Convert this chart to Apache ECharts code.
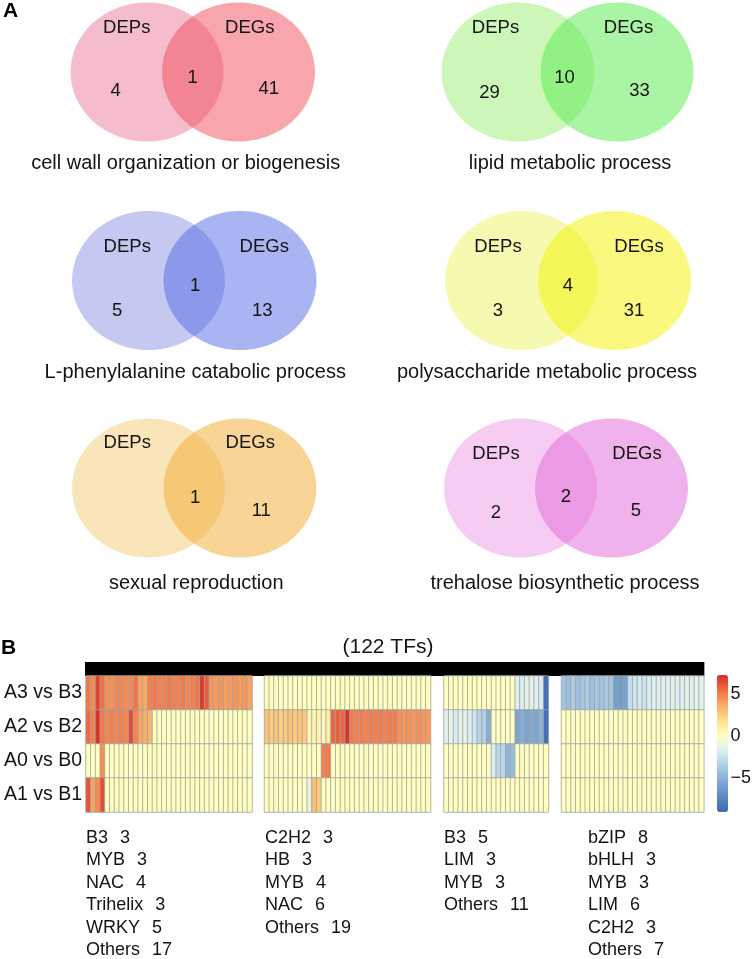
<!DOCTYPE html>
<html><head><meta charset="utf-8">
<script src="https://cdn.jsdelivr.net/npm/echarts@6/dist/echarts.min.js"></script>
<style>html,body{margin:0;padding:0;background:#fff}#c{width:754px;height:959px}</style>
</head><body><div id="c"></div>
<script>
// ================= DATA =================
// Panel A: Venn diagrams
const vennTitles = ['cell wall organization or biogenesis','lipid metabolic process','L-phenylalanine catabolic process','polysaccharide metabolic process','sexual reproduction','trehalose biosynthetic process'];
const vennSetNames = ['DEPs','DEGs'];
const vennOnlyDEPs = [4, 29, 5, 3, null, 2];
const vennBoth     = [1, 10, 1, 4, 1, 2];
const vennOnlyDEGs = [41, 33, 13, 31, 11, 5];

// Panel B: heatmap (log2 fold change), rows top->bottom
const rowLabels = ['A3 vs B3','A2 vs B2','A0 vs B0','A1 vs B1'];

const block1_A3 = [5.1,4.6,6.6,5.3,4.4,4.4,4.7,4.7,4.6,4.7,5.3,3.9,3.7,4.9,5.1,4.9,4.9,5.1,4.9,4.9,5.1,4.7,4.9,5.1,6.9,5.8,4.3,4.1,4.3,4.1,4.2,4.3,4.1,4.3,3.9];
const block1_A2 = [5.5,4.9,7.1,5.1,4.7,4.9,4.7,4.9,4.7,6.4,4.9,3.9,3.5,3.3,0,0,0,0,0,0,0,0,0,0,0,0,0,0,0,0,0,0,0,0,0];
const block1_A0 = [0,0,0,4.5,0,0,0,0,0,0,0,0,0,0,0,0,0,0,0,0,0,0,0,0,0,0,0,0,0,0,0,0,0,0,0];
const block1_A1 = [6.1,3.9,4.6,6.3,0,0,0,0,0,0,0,0,0,0,0,0,0,0,0,0,0,0,0,0,0,0,0,0,0,0,0,0,0,0,0];

const block2_A3 = [0,0,0,0,0,0,0,0,0,0,0,0,0,0,0,0,0,0,0,0,0,0,0,0,0,0,0,0,0,0,0,0,0,0,0];
const block2_A2 = [2.8,2.5,2.8,2.4,2.7,2.9,2.5,2.8,2.6,0.4,0.6,0.5,0.4,0.8,5.6,5.8,5.6,7.1,5.0,4.9,5.0,4.9,5.0,4.9,5.0,4.9,5.0,5.0,4.4,4.3,4.4,4.3,4.4,4.3,4.2];
const block2_A0 = [0,0,0,0,0,0,0,0,0,0,0,0,4.9,5.0,0,0,0,0,0,0,0,0,0,0,0,0,0,0,0,0,0,0,0,0,0];
const block2_A1 = [0,0,0,0,0,0,0,0,0,-1.2,3.0,2.6,0,0,0,0,0,0,0,0,0,0,0,0,0,0,0,0,0,0,0,0,0,0,0];

const block3_A3 = [0,0,0,0,0,0,0,0,0,0,0,0,0,0,0,-1.6,-1.8,-1.5,-1.4,-1.6,-1.9,-8.6];
const block3_A2 = [-1.6,-1.3,-1.9,-1.5,-1.4,-1.9,-2.2,-3.2,-3.4,-5.2,0,0,0,0,0,-5.6,-5.2,-5.8,-5.4,-5.6,-5.0,-8.6];
const block3_A0 = [0,0,0,0,0,0,0,0,0,0,-1.8,-3.0,-3.0,-4.8,-4.4,0,0,0,0,0,0,0];
const block3_A1 = [0,0,0,0,0,0,0,0,0,0,0,0,0,0,0,0,0,0,0,0,0,0];

const block4_A3 = [-4.0,-4.3,-3.6,-4.2,-3.9,-3.6,-4.2,-3.8,-4.1,-3.8,-4.0,-6.0,-6.2,-5.8,-2.6,-2.3,-2.1,-2.4,-1.8,-1.6,-1.8,-1.5,-1.7,-1.5,-1.6,-1.8,-1.5,-1.6,-1.4,-1.5];
const block4_A2 = [0,0,0,0,0,0,0,0,0,0,0,0,0,0,0,0,0,0,0,0,0,0,0,0,0,0,0,0,0,0];
const block4_A0 = [0,0,0,0,0,0,0,0,0,0,0,0,0,0,0,0,0,0,0,0,0,0,0,0,0,0,0,0,0,0];
const block4_A1 = [0,0,0,0,0,0,0,0,0,0,0,0,0,0,0,0,0,0,0,0,0,0,0,0,0,0,0,0,0,0];

const tfGroup1 = ['B3','MYB','NAC','Trihelix','WRKY','Others'];
const tfCount1 = [3,3,4,3,5,17];
const tfGroup2 = ['C2H2','HB','MYB','NAC','Others'];
const tfCount2 = [3,3,4,6,19];
const tfGroup3 = ['B3','LIM','MYB','Others'];
const tfCount3 = [5,3,3,11];
const tfGroup4 = ['bZIP','bHLH','MYB','LIM','C2H2','Others'];
const tfCount4 = [8,3,3,6,3,7];

const colorTicks = [-5, 0, 5];

// ================= LAYOUT / STYLE =================
const FONT = '"Liberation Sans", Arial, Helvetica, sans-serif';
const INK = '#141414';
const RX = 76.5, RY = 69.5;
const vennLayout = [
  {lx:147,   rx:238.5, cy:72},
  {lx:518,   rx:617,   cy:72},
  {lx:148.5, rx:240,   cy:280.5},
  {lx:521.5, rx:614.5, cy:280.5},
  {lx:148.5, rx:240,   cy:488},
  {lx:520.5, rx:611.5, cy:488}
];
const vennText = [
  {deps:[-66,-44], degs:[57,-44], left:[-77,19], mid:[0,6],  right:[76,17], title:[-7,91]},
  {deps:[-72,-44], degs:[61,-44], left:[-78,21], mid:[-3,6], right:[72,19], title:[2.5,91]},
  {deps:[-67,-34], degs:[70,-34], left:[-77,30], mid:[1,5],  right:[68,30], title:[1,91.5]},
  {deps:[-70,-34], degs:[71,-34], left:[-70,30], mid:[0,5],  right:[66,30], title:[-21,91.5]},
  {deps:[-67,-45], degs:[56,-45], left:[-70,25], mid:[1,10], right:[67,23], title:[2,95]},
  {deps:[-70,-34], degs:[71,-34], left:[-70,25], mid:[0,9],  right:[70,23], title:[-1,95]}
];
const vennColors = [
  ['#F5BDCB','rgb(241,75,93)'],
  ['#CDF7B8','rgb(85,235,75)'],
  ['#C5C8F0','rgb(83,105,229)'],
  ['#F5FAB0','rgb(243,243,1)'],
  ['#FAE5BA','rgb(241,169,45)'],
  ['#F7CCF2','rgb(225,101,217)']
];
const HM_LEFTS = [86, 264.5, 444, 561.5];
const HM_TOP = 676, HM_H = 136, CELL_W = 4.745;
const LIST_X = [86, 265, 444, 588];
const LIST_TOP = 826.5;

const blocks = [
  {rows:[block1_A3, block1_A2, block1_A0, block1_A1], names:tfGroup1, counts:tfCount1},
  {rows:[block2_A3, block2_A2, block2_A0, block2_A1], names:tfGroup2, counts:tfCount2},
  {rows:[block3_A3, block3_A2, block3_A0, block3_A1], names:tfGroup3, counts:tfCount3},
  {rows:[block4_A3, block4_A2, block4_A0, block4_A1], names:tfGroup4, counts:tfCount4}
];

// ================= BUILD =================
const grids = [], xAxes = [], yAxes = [], series = [], graphics = [];

vennTitles.forEach((title, i) => {
  const L = vennLayout[i];
  grids.push({left: L.lx - RX, top: L.cy - RY, width: (L.rx - L.lx) + 2 * RX, height: 2 * RY});
  xAxes.push({type:'value', gridIndex:i, min:0, max:1, show:false});
  yAxes.push({type:'value', gridIndex:i, min:0, max:1, show:false});
  series.push({
    type:'custom', xAxisIndex:i, yAxisIndex:i, silent:true, data:[[0.5,0.5]],
    renderItem: function(params, api) {
      const cs = params.coordSys;
      const ry = cs.height / 2, rx = RX;
      const cy = cs.y + ry;
      const lcx = cs.x + rx, rcx = cs.x + cs.width - rx;
      const mx = cs.x + cs.width / 2;
      const o = vennText[i], col = vennColors[i];
      const txt = (s, p, size) => ({type:'text', style:{text:String(s), x:mx + p[0], y:cy + p[1],
        align:'center', verticalAlign:'middle', fontSize:size, fontFamily:FONT, fill:INK}});
      const ch = [
        {type:'circle', x:lcx, y:cy, scaleY:ry / rx, shape:{cx:0, cy:0, r:rx}, style:{fill:col[0]}},
        {type:'circle', x:rcx, y:cy, scaleY:ry / rx, shape:{cx:0, cy:0, r:rx}, style:{fill:col[1], opacity:0.5}},
        txt(vennSetNames[0], o.deps, 18.5),
        txt(vennSetNames[1], o.degs, 18.5),
        txt(vennBoth[i], o.mid, 18.5),
        txt(vennOnlyDEGs[i], o.right, 18.5),
        txt(title, o.title, 20)
      ];
      if (vennOnlyDEPs[i] != null) ch.push(txt(vennOnlyDEPs[i], o.left, 18.5));
      return {type:'group', children:ch};
    }
  });
});

let total = 0;
blocks.forEach((b, k) => {
  const gi = 6 + k;
  const n = b.rows[0].length;
  total += n;
  grids.push({left: HM_LEFTS[k], top: HM_TOP, width: n * CELL_W, height: HM_H});
  xAxes.push({type:'category', gridIndex:gi, data: b.rows[0].map((_, j) => 'TF' + (j + 1)), show:false});
  yAxes.push({type:'category', gridIndex:gi, data: rowLabels, inverse:true,
    axisLine:{show:false}, axisTick:{show:false}, splitLine:{show:false},
    axisLabel:{show: k === 0, fontSize:19.5, fontFamily:FONT, color:INK, margin:4}});
  const data = [];
  b.rows.forEach((r, ri) => r.forEach((v, ci) => data.push([ci, ri, v])));
  series.push({type:'heatmap', xAxisIndex:gi, yAxisIndex:gi, data, silent:true,
    itemStyle:{borderColor:'#a2a2a2', borderWidth:0.8}, emphasis:{disabled:true}});
  const lines = b.names.map((nm, j) => '{n|' + nm + '}{c|' + b.counts[j] + '}');
  graphics.push({type:'text', left: LIST_X[k], top: LIST_TOP, silent:true,
    style:{text: lines.join('\n'), fontSize:18, fontFamily:FONT, fill:INK, lineHeight:22.5,
      rich:{n:{fontSize:18, fontFamily:FONT, fill:INK, color:INK, lineHeight:22.5},
            c:{fontSize:18, fontFamily:FONT, fill:INK, color:INK, lineHeight:22.5, padding:[0,0,0,12]}}}});
});

// colorbar tick axis
grids.push({left:717, top:675, width:11, height:137});
xAxes.push({type:'value', gridIndex:10, show:false, min:0, max:1});
yAxes.push({type:'value', gridIndex:10, min:-9, max:7.2, position:'right',
  axisLine:{show:false}, axisTick:{show:false}, splitLine:{show:false},
  axisLabel:{customValues: colorTicks, fontSize:18, fontFamily:FONT, color:INK, margin:4,
    formatter: v => (v < 0 ? '\u2212' + Math.abs(v) : String(v))}});
series.push({type:'scatter', xAxisIndex:10, yAxisIndex:10, data:[], silent:true});

// annotations
const barLeft = HM_LEFTS[0] - 1;
const barRight = HM_LEFTS[3] + blocks[3].rows[0].length * CELL_W + 0.5;
graphics.push({type:'rect', shape:{x:barLeft, y:662, width:barRight - barLeft, height:14}, style:{fill:'#000'}, silent:true});
graphics.push({type:'text', x:388, y:647, silent:true,
  style:{text:'(' + total + ' TFs)', align:'center', verticalAlign:'middle', textAlign:'center', textVerticalAlign:'middle',
    fontSize:21, fontFamily:FONT, fill:INK}});
graphics.push({type:'text', left:3, top:1, silent:true, style:{text:'A', fontSize:21, fontWeight:'bold', fontFamily:FONT, fill:'#000'}});
graphics.push({type:'text', left:1, top:638, silent:true, style:{text:'B', fontSize:21, fontWeight:'bold', fontFamily:FONT, fill:'#000'}});

const chart = echarts.init(document.getElementById('c'));
chart.setOption({
  animation:false,
  backgroundColor:'#ffffff',
  grid: grids, xAxis: xAxes, yAxis: yAxes, series: series,
  visualMap: {
    type:'continuous', min:-9, max:7.2, seriesIndex:[6,7,8,9],
    left:717, top:675, itemWidth:11, itemHeight:137, padding:0,
    calculable:false, text:null, showLabel:false, hoverLink:false,
    inRange:{color:['#4069AE','#5B8AC1','#7FAAD2','#ABCDE4','#DCEEF3','#FFFFBF','#FEE08E','#FBAE63','#F26D44','#D6302A']}
  },
  graphic: {elements: graphics}
});
</script>
</body></html>
